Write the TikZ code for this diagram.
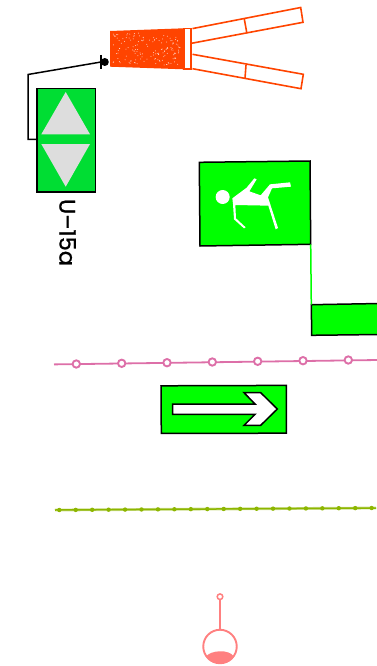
\documentclass[tikz,border=0pt]{standalone}
\usepackage{fontspec}
\setmainfont{Poppins}
\newfontfamily\ulabfont[FakeBold=0.9]{Poppins}
\definecolor{orng}{HTML}{FF4400}
\definecolor{signa}{HTML}{00DD33}
\definecolor{signb}{HTML}{00FF00}
\definecolor{tri}{HTML}{DDDDDD}
\definecolor{pnk}{HTML}{DD6FA8}
\definecolor{olv}{HTML}{8DB600}
\definecolor{sal}{HTML}{FF8080}
\tikzset{
  signbox/.style={fill=signb,draw=black,line width=1.5pt,line join=miter},
  armline/.style={draw=orng,line width=1.6pt,line join=miter},
  conn/.style={draw=black,line width=1.5pt,line join=miter},
  pnkdot/.style={circle,draw=pnk,fill=white,line width=1.9pt,inner sep=0pt,minimum size=7.4pt},
  olvdot/.style={circle,fill=olv,inner sep=0pt,minimum size=4.4pt}
}
\begin{document}
\begin{tikzpicture}[x=1pt,y=-1pt]
\useasboundingbox (0,0) rectangle (376,666);
\pgfmathsetseed{4711}
% orange assembly
\fill[orng] (110,31) -- (183.7,28.3) -- (183.7,69.3) -- (110,66.7) -- cycle;
\foreach \i in {1,...,150}{
  \pgfmathsetmacro{\px}{113+rnd*67}
  \pgfmathsetmacro{\py}{33+rnd*32}
  \fill[white,opacity=0.75] (\px,\py) circle (0.5pt);
}
\draw[armline] (184,28.5) rectangle (191,69);
\draw[armline] (192.5,28.6) -- (300.7,7.5) -- (303,22.3) -- (191.5,43.3);
\draw[armline] (244.3,19) -- (246.7,32.3);
\draw[armline] (192.5,54.3) -- (303.3,74.3) -- (301,88.7) -- (192.5,68.7);
\draw[armline] (246,65) -- (245,78.3);
% U-15a sign
\node[name=usign,draw=black,line width=1.5pt,fill=signa,minimum width=58.7pt,minimum height=103.6pt,inner sep=0pt,anchor=north west] at (36,87.7) {};
\fill[tri] (65.7,92) -- (90,134.3) -- (41.3,134.3) -- cycle;
\fill[tri] (41.3,144) -- (90,144) -- (65.7,186.7) -- cycle;
\node[name=ulabel,rotate=-90,font=\ulabfont\fontsize{22.5}{22.5}\selectfont,text=black,inner sep=0pt] at (67.5,232.5) {U–15a};
% connector
\coordinate (cbend1) at (28,139.3);
\coordinate (cbend2) at (28,74.5);
\coordinate (cend) at (101,62);
\coordinate (cbarT) at (100.8,55);
\coordinate (cbarB) at (100.8,69);
\node[name=cdot,circle,fill=black,inner sep=0pt,minimum size=8pt] at (104.8,62) {};
\draw[conn] (usign.west |- cbend1) -- (cbend1) -- (cbend2) -- (cend);
\draw[conn] (cbarT) -- (cbarB);
% running figure sign
\draw[signbox] (199.3,162.3) -- (310,161) coordinate (fTR) -- (310.7,244.3) coordinate (fBR) -- (200,246) -- cycle;
\begin{scope}[shift={(190,150)},scale=1/3]
\fill[white] (98,141) circle (21);
\fill[white] (127,145) -- (170,113) -- (193,85) -- (200,88) -- (178,124) -- (212,136) -- (240,103) -- (300,97) -- (303,110) -- (246,115) -- (234,142) -- (264,234) -- (257,238) -- (235,167) -- (136,165) -- (138,205) -- (167,232) -- (162,235) -- (132,208) -- (129,162) -- cycle;
\end{scope}
% lower-right sign
\draw[signbox] (311.3,304.7) coordinate (gTL) -- (380,303.5) -- (380,334.5) -- (311.7,335.3) -- cycle;
\draw[draw=signb,line width=1.5pt] (fBR) -- (gTL);
% pink line
\coordinate (pA) at (54,364.4);
\coordinate (pB) at (378,360);
\draw[pnk,line width=1.8pt] (pA) -- (pB);
\foreach \n/\x/\y in {1/76.3/364,2/121.7/363.3,3/167/362.7,4/212.3/362,5/257.7/361.3,6/303/360.7,7/348.3/360}
  \node[pnkdot,name=p\n] at (\x,\y) {};
% arrow sign
\draw[signbox] (161,385.8) -- (286.3,385.4) -- (286.3,433.2) -- (161.3,433.4) -- cycle;
\begin{scope}[shift={(40,345)},scale=1/3]
\draw[fill=white,draw=black,line width=1.5pt,line join=miter] (398,177) -- (645,177) -- (612,143) -- (662,143) -- (712,192) -- (662,241) -- (612,241) -- (645,208) -- (398,208) -- cycle;
\end{scope}
% olive line
\coordinate (oA) at (55,510);
\coordinate (oB) at (376,508);
\draw[olv!45!white,line width=2.8pt] (oA) -- (oB);
\draw[olv,line width=1.5pt] (oA) -- (oB);
\foreach \i in {0,...,19}{
  \pgfmathsetmacro{\ox}{59.3+\i*16.44}
  \pgfmathsetmacro{\oy}{510-\i*0.105}
  \node[olvdot,name=o\i] at (\ox,\oy) {};
}
% pendant circle
\node[name=ptop,circle,draw=sal,fill=white,line width=1.5pt,inner sep=0pt,minimum size=5.6pt] at (220,596.7) {};
\node[name=pball,circle,draw=sal,line width=1.9pt,inner sep=0pt,minimum size=33.5pt] at (220,646.5) {};
\fill[sal] (206,656.5) .. controls (211,650) and (229,649) .. (234,656.5) .. controls (229,666) and (211,666) .. (206,656.5) -- cycle;
\draw[sal,line width=1.5pt] (ptop) -- (pball);
\end{tikzpicture}
\end{document}
